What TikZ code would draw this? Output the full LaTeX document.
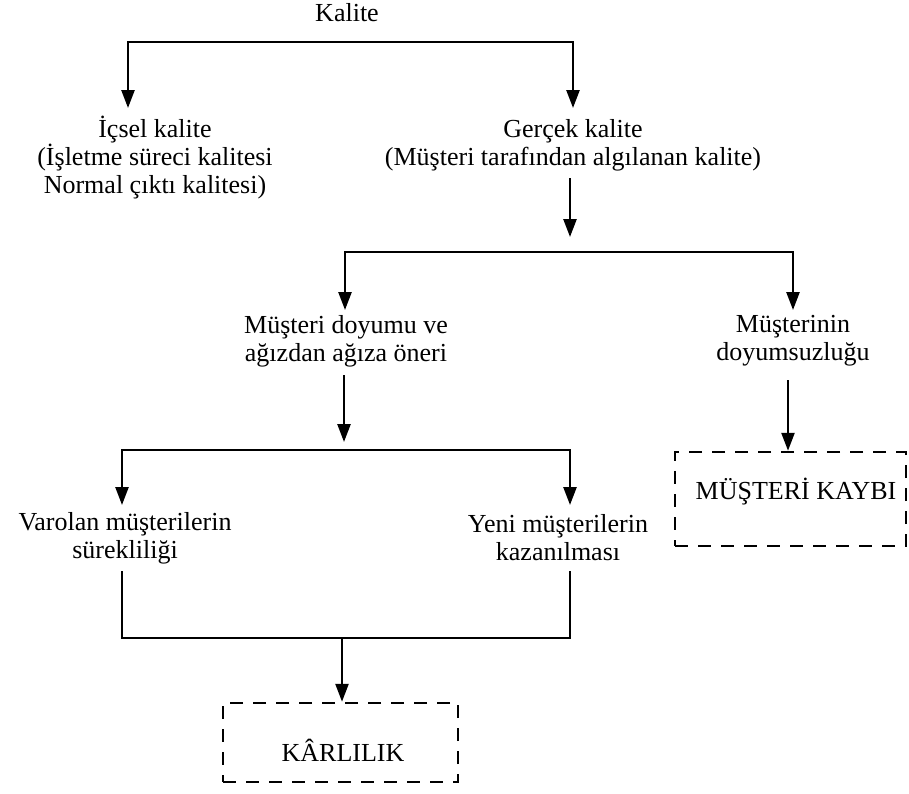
\documentclass[tikz,border=0pt]{standalone}
\usepackage{fontspec}
\setmainfont{Liberation Serif}
\usetikzlibrary{arrows.meta}
\begin{document}
\begin{tikzpicture}[x=1pt,y=-1pt,
  txt/.style={align=center,inner sep=0pt,font=\fontsize{26}{28}\selectfont},
  line/.style={line width=2.5pt,line cap=rect},
  arr/.style={line width=2.5pt,-{Triangle[length=18pt,width=13pt]}},
  dashbox/.style={draw,line width=2.5pt,dash pattern=on 13pt off 10pt,inner sep=0pt}]
\useasboundingbox (0,0) rectangle (909,793);

% text blocks
\node[txt] (kalite) at (347,13) {Kalite};
\node[txt] (icsel) at (155,158) {İçsel kalite\\(İşletme süreci kalitesi\\Normal çıktı kalitesi)};
\node[txt] (gercek) at (573,145) {Gerçek kalite\\(Müşteri tarafından algılanan kalite)};
\node[txt] (doyum) at (346,341) {Müşteri doyumu ve\\ağızdan ağıza öneri};
\node[txt] (doyumsuz) at (793,341) {Müşterinin\\doyumsuzluğu};
\node[txt] (varolan) at (125,538) {Varolan müşterilerin\\sürekliliği};
\node[txt] (yeni) at (558,538) {Yeni müşterilerin\\kazanılması};

% outcome boxes
\node[dashbox,minimum width=235pt,minimum height=79pt] (karlilik) at (340.5,742.5) {};
\node[txt] (karliliktxt) at (343,750) {KÂRLILIK};
\node[dashbox,minimum width=231pt,minimum height=94pt] (kayip) at (790.5,499) {};
\node[txt] (kayiptxt) at (796,492) {MÜŞTERİ KAYBI};

% first split
\coordinate (b1l) at (128,42);
\coordinate (b1r) at (573,42);
\draw[line] (b1l) -- (b1r);
\draw[arr] (b1l) -- (b1l |- 0,108);
\draw[arr] (b1r) -- (b1r |- 0,108);

% from perceived quality to the second split
\coordinate (g1) at (570,178);
\draw[arr] (g1) -- (g1 |- 0,237);
\coordinate (b2l) at (345,252);
\coordinate (b2r) at (793,252);
\draw[line] (b2l) -- (b2r);
\draw[arr] (b2l) -- (b2l |- 0,310);
\draw[arr] (b2r) -- (b2r |- 0,310);

% satisfaction to the third split
\coordinate (d1) at (344,375);
\draw[arr] (d1) -- (d1 |- 0,442);
\coordinate (b3l) at (122,450);
\coordinate (b3r) at (570,450);
\draw[line] (b3l) -- (b3r);
\draw[arr] (b3l) -- (b3l |- 0,505);
\draw[arr] (b3r) -- (b3r |- 0,505);

% dissatisfaction to customer loss
\coordinate (m1) at (788,380);
\draw[arr] (m1) -- (kayip.north -| m1);

% joining into profitability
\coordinate (j1) at (122,572);
\coordinate (j2) at (570,572);
\coordinate (jm) at (342,638);
\draw[line] (j1) -- (j1 |- jm) -- (j2 |- jm) -- (j2);
\draw[arr] (jm) -- (karlilik.north -| jm);
\end{tikzpicture}
\end{document}
